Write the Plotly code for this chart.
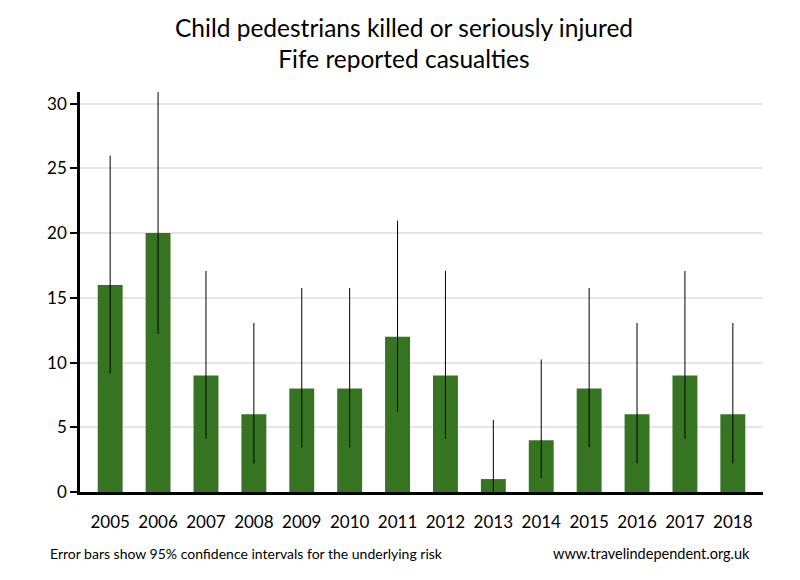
import plotly.graph_objects as go

years = ["2005", "2006", "2007", "2008", "2009", "2010", "2011",
         "2012", "2013", "2014", "2015", "2016", "2017", "2018"]
casualties = [16, 20, 9, 6, 8, 8, 12, 9, 1, 4, 8, 6, 9, 6]
ci_lower = [9.15, 12.22, 4.12, 2.20, 3.45, 3.45, 6.20, 4.12, 0.03, 1.09, 3.45, 2.20, 4.12, 2.20]
ci_upper = [25.99, 30.89, 17.08, 13.06, 15.76, 15.76, 20.96, 17.08, 5.57, 10.24, 15.76, 13.06, 17.08, 13.06]
y_ticks = [0, 5, 10, 15, 20, 25, 30]

err_plus = [u - v for u, v in zip(ci_upper, casualties)]
err_minus = [v - l for v, l in zip(casualties, ci_lower)]

FONT = "Lato"

fig = go.Figure(go.Bar(
    x=years, y=casualties, width=0.52,
    marker=dict(color="#367422", line=dict(width=0)),
    error_y=dict(type="data", symmetric=False, array=err_plus, arrayminus=err_minus,
                 color="black", thickness=1, width=0),
))

fig.update_layout(
    width=792, height=572,
    paper_bgcolor="white", plot_bgcolor="white",
    margin=dict(l=72, r=37, t=84, b=88),
    title=dict(text="Child pedestrians killed or seriously injured<br>Fife reported casualties",
               x=0.5, xanchor="center", y=0.95, yanchor="top",
               font=dict(family=FONT, size=24.5, color="black")),
    font=dict(family=FONT, color="black"),
    showlegend=False,
)
fig.update_xaxes(
    type="category", range=[-0.63, 13.63],
    showline=True, linecolor="black", linewidth=3,
    ticks="", tickfont=dict(size=17), ticklabelstandoff=13,
    showgrid=False,
)
fig.update_yaxes(
    range=[0, 30.9], tickvals=y_ticks,
    showline=True, linecolor="black", linewidth=2.5,
    ticks="outside", ticklen=7, tickwidth=2, tickcolor="black",
    tickfont=dict(size=17),
    showgrid=True, gridcolor="#e6e6e6", gridwidth=2,
    zeroline=False,
)
fig.add_annotation(text="Error bars show 95% confidence intervals for the underlying risk",
                   xref="paper", yref="paper", x=-0.047, y=-0.1525, xanchor="left", yanchor="middle",
                   showarrow=False, font=dict(family=FONT, size=14, color="black"))
fig.add_annotation(text="www.travelindependent.org.uk",
                   xref="paper", yref="paper", x=0.984, y=-0.1525, xanchor="right", yanchor="middle",
                   showarrow=False, font=dict(family=FONT, size=14.5, color="black"))

fig.write_html("out.html")
